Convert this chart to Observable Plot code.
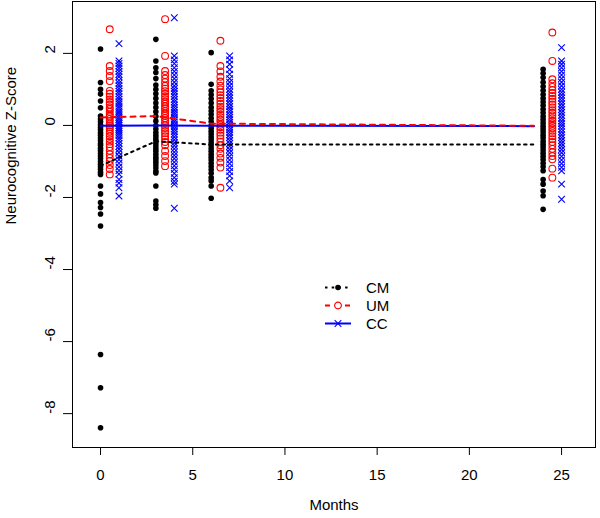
<!DOCTYPE html>
<html><head><meta charset="utf-8">
<script src="https://cdn.jsdelivr.net/npm/d3@7"></script>
<script src="https://cdn.jsdelivr.net/npm/@observablehq/plot@0.6"></script>
<style>
body{margin:0;background:#fff;}
#chart{position:relative;width:600px;height:518px;font-family:"Liberation Sans",Arial,sans-serif;}
#legend{position:absolute;left:0;top:0;pointer-events:none;}
</style>
</head><body><div id="chart"></div>
<script>
// ---- data ----
const months = [0, 3, 6, 24];            // visit times (points)
const lineMonths = [0, 3, 6, 23.5];      // x of the mean lines
const groups = ["CM", "UM", "CC"];
const groupOffsets = [0, 0.5, 1];        // horizontal jitter per group

const cmMonth0 = [2.12, 1.19, 1.0, 0.87, 0.68, 0.49, 0.26, 0.18, 0.1, 0.02, -0.06, -0.12, -0.2, -0.27, -0.35, -0.42, -0.5, -0.55, -0.63, -0.7, -0.78, -0.85, -0.92, -1.0, -1.08, -1.15, -1.22, -1.3, -1.36, -1.68, -1.9, -2.14, -2.28, -2.46, -2.79, -6.36, -7.28, -8.39];
const umMonth0 = [2.67, 1.65, 1.51, 1.37, 1.23, 0.96, 0.88, 0.8, 0.72, 0.65, 0.58, 0.5, 0.45, 0.38, 0.3, 0.25, 0.18, 0.12, 0.05, 0.0, -0.05, -0.1, -0.17, -0.23, -0.3, -0.38, -0.45, -0.52, -0.6, -0.7, -0.8, -0.9, -0.99, -1.1, -1.21, -1.36];
const ccMonth0 = [2.27, 1.79, 1.72, 1.65, 1.58, 1.5, 1.42, 1.35, 1.25, 1.17, 1.1, 1.02, 0.95, 0.88, 0.8, 0.73, 0.66, 0.6, 0.53, 0.47, 0.4, 0.35, 0.28, 0.22, 0.16, 0.1, 0.05, 0.0, -0.05, -0.1, -0.16, -0.22, -0.28, -0.35, -0.42, -0.5, -0.58, -0.66, -0.75, -0.85, -0.95, -1.05, -1.15, -1.25, -1.35, -1.5, -1.6, -1.73, -1.96];

const cmMonth3 = [2.39, 1.79, 1.6, 1.47, 1.3, 1.12, 1.0, 0.88, 0.75, 0.62, 0.5, 0.38, 0.25, 0.12, 0.0, -0.1, -0.2, -0.28, -0.35, -0.42, -0.5, -0.57, -0.65, -0.72, -0.8, -0.88, -0.95, -1.02, -1.1, -1.18, -1.27, -1.32, -1.68, -2.1, -2.2, -2.3];
const umMonth3 = [2.95, 1.93, 1.51, 1.4, 1.3, 1.2, 1.1, 1.02, 0.95, 0.88, 0.8, 0.73, 0.66, 0.6, 0.53, 0.47, 0.4, 0.33, 0.27, 0.2, 0.13, 0.07, 0.0, -0.07, -0.15, -0.22, -0.3, -0.38, -0.46, -0.55, -0.71, -0.85, -0.99, -1.13];
const ccMonth3 = [2.99, 1.93, 1.82, 1.72, 1.6, 1.5, 1.4, 1.3, 1.2, 1.1, 1.02, 0.95, 0.88, 0.8, 0.72, 0.65, 0.57, 0.5, 0.43, 0.36, 0.3, 0.23, 0.16, 0.1, 0.03, -0.03, -0.1, -0.17, -0.24, -0.32, -0.4, -0.48, -0.56, -0.65, -0.74, -0.83, -0.92, -1.02, -1.12, -1.22, -1.33, -1.45, -1.55, -1.63, -2.3];

const cmMonth6 = [2.02, 1.14, 0.96, 0.85, 0.74, 0.62, 0.5, 0.4, 0.3, 0.2, 0.1, 0.0, -0.08, -0.16, -0.24, -0.32, -0.4, -0.48, -0.56, -0.64, -0.72, -0.8, -0.88, -0.96, -1.05, -1.14, -1.23, -1.33, -1.45, -1.54, -1.68, -2.02];
const umMonth6 = [2.35, 1.65, 1.5, 1.35, 1.22, 1.1, 1.0, 0.92, 0.84, 0.76, 0.68, 0.6, 0.52, 0.45, 0.38, 0.3, 0.23, 0.16, 0.09, 0.02, -0.05, -0.12, -0.2, -0.28, -0.36, -0.45, -0.55, -0.65, -0.78, -0.9, -1.03, -1.17, -1.73];
const ccMonth6 = [1.93, 1.82, 1.7, 1.55, 1.42, 1.3, 1.2, 1.1, 1.0, 0.92, 0.84, 0.76, 0.68, 0.6, 0.52, 0.45, 0.38, 0.3, 0.23, 0.16, 0.09, 0.02, -0.05, -0.12, -0.19, -0.26, -0.34, -0.42, -0.5, -0.58, -0.67, -0.76, -0.86, -0.96, -1.06, -1.17, -1.28, -1.4, -1.54, -1.73];

const cmMonth24 = [1.56, 1.45, 1.33, 1.2, 1.08, 0.97, 0.86, 0.75, 0.65, 0.55, 0.45, 0.35, 0.25, 0.16, 0.07, -0.02, -0.1, -0.18, -0.27, -0.35, -0.44, -0.52, -0.6, -0.68, -0.77, -0.86, -0.95, -1.05, -1.15, -1.26, -1.5, -1.63, -1.82, -1.95, -2.33];
const umMonth24 = [2.58, 1.79, 1.28, 1.17, 1.07, 0.98, 0.9, 0.82, 0.74, 0.66, 0.58, 0.5, 0.42, 0.35, 0.28, 0.2, 0.13, 0.06, -0.01, -0.08, -0.15, -0.22, -0.3, -0.38, -0.46, -0.55, -0.65, -0.75, -0.85, -0.94, -1.2, -1.45];
const ccMonth24 = [2.16, 1.79, 1.7, 1.6, 1.5, 1.4, 1.3, 1.2, 1.1, 1.0, 0.92, 0.84, 0.76, 0.68, 0.6, 0.52, 0.44, 0.36, 0.28, 0.2, 0.12, 0.05, -0.02, -0.1, -0.18, -0.26, -0.34, -0.42, -0.5, -0.58, -0.67, -0.76, -0.86, -0.96, -1.06, -1.16, -1.26, -1.63, -2.05];

const cmMeans = [-1.12, -0.44, -0.53, -0.53];
const umMeans = [0.22, 0.26, 0.05, -0.01];
const ccMeans = [-0.01, 0.0, -0.01, -0.02];

const xTicks = [0, 5, 10, 15, 20, 25];
const yTicks = [-8, -6, -4, -2, 0, 2];
const xLabel = "Months";
const yLabel = "Neurocognitive Z-Score";

// ---- build tables ----
const valuesBy = {
  CM: [cmMonth0, cmMonth3, cmMonth6, cmMonth24],
  UM: [umMonth0, umMonth3, umMonth6, umMonth24],
  CC: [ccMonth0, ccMonth3, ccMonth6, ccMonth24]
};
const meansBy = {CM: cmMeans, UM: umMeans, CC: ccMeans};
const points = [];
groups.forEach((g, gi) => {
  valuesBy[g].forEach((arr, mi) => {
    arr.forEach(v => points.push({group: g, x: months[mi] + groupOffsets[gi], y: v}));
  });
});
const lines = [];
groups.forEach(g => meansBy[g].forEach((m, i) => lines.push({group: g, x: lineMonths[i], y: m})));

const style = {
  CM: {color: "#000000", dash: "2.5,4.2", symbol: "circle", fill: true},
  UM: {color: "#FF0000", dash: "5,5", symbol: "circle", fill: false},
  CC: {color: "#0000FF", dash: null, symbol: "times", fill: false}
};
const rOf = {CM: 2.8, UM: 3.4, CC: 3.1};

const marks = [Plot.frame({stroke: "#000"})];
groups.forEach(g => {
  const s = style[g];
  marks.push(Plot.dot(points.filter(d => d.group === g), {
    x: "x", y: "y", r: rOf[g], symbol: s.symbol,
    fill: s.fill ? s.color : "none",
    stroke: s.fill ? "none" : s.color,
    strokeWidth: 1.1
  }));
});
["CC", "UM", "CM"].forEach(g => {
  const s = style[g];
  marks.push(Plot.line(lines.filter(d => d.group === g), {
    x: "x", y: "y", stroke: s.color, strokeWidth: 2,
    strokeDasharray: s.dash || undefined
  }));
});
marks.push(
  Plot.axisX({ticks: xTicks, tickSize: 8, tickPadding: 14, fontSize: 15}),
  Plot.axisY({ticks: yTicks, tickSize: 9, tickFormat: () => ""}),
  Plot.text(yTicks, {y: d => d, text: d => String(d), frameAnchor: "left", dx: -22, rotate: -90, fontSize: 15}),
  Plot.text([yLabel], {frameAnchor: "left", dx: -61, rotate: -90, fontSize: 15}),
  Plot.text([xLabel], {frameAnchor: "bottom", dy: 62, fontSize: 15})
);

const chart = Plot.plot({
  width: 600, height: 518,
  marginLeft: 72, marginRight: 5, marginTop: 1, marginBottom: 71,
  x: {domain: [-1.52, 26.84], label: null},
  y: {domain: [-8.94, 3.44], label: null},
  style: {fontFamily: '"Liberation Sans", Arial, sans-serif', fontSize: "15px", background: "#fff", color: "#000"},
  marks
});
const container = document.getElementById("chart");
container.appendChild(chart);

// ---- legend (R-style, no box) ----
const lg = d3.select(container).append("svg").attr("id", "legend")
  .attr("width", 600).attr("height", 518);
groups.forEach((g, i) => {
  const s = style[g];
  const y = 287.5 + i * 18;
  lg.append("line").attr("x1", 325).attr("x2", 351).attr("y1", y).attr("y2", y)
    .attr("stroke", s.color).attr("stroke-width", 2)
    .attr("stroke-dasharray", s.dash || null);
  const sym = s.symbol === "times" ? d3.symbolTimes : d3.symbolCircle;
  lg.append("path").attr("transform", `translate(338,${y})`)
    .attr("d", d3.symbol(sym, Math.PI * rOf[g] * rOf[g])())
    .attr("fill", s.fill ? s.color : "#fff")
    .attr("stroke", s.fill ? "none" : s.color).attr("stroke-width", 1.1);
  lg.append("text").attr("x", 366).attr("y", y).attr("dy", "0.35em")
    .attr("font-size", 15).attr("font-family", '"Liberation Sans", Arial, sans-serif')
    .text(g);
});
</script>
</body></html>
